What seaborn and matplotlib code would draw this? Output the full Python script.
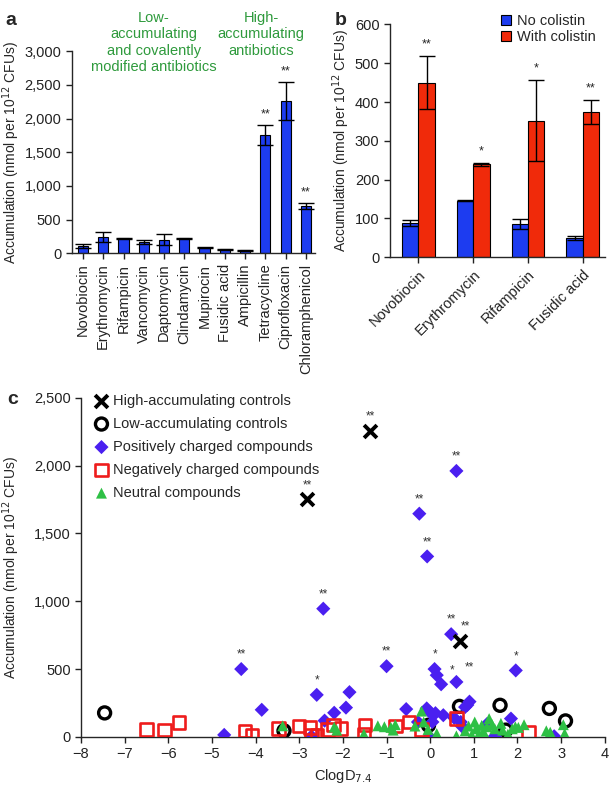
import numpy as np
import pandas as pd
import seaborn as sns
import matplotlib.pyplot as plt
from matplotlib.ticker import StrMethodFormatter

# Panel a data.
a_drugs = ["Novobiocin", "Erythromycin", "Rifampicin", "Vancomycin", "Daptomycin",
           "Clindamycin", "Mupirocin", "Fusidic acid", "Ampicillin", "Tetracycline",
           "Ciprofloxacin", "Chloramphenicol"]
a_mean = [110, 237, 220, 170, 200, 220, 84, 57, 44, 1755, 2262, 705]
a_err = [25, 74, 10, 25, 80, 12, 5, 5, 4, 150, 285, 45]
a_sig = ["", "", "", "", "", "", "", "", "", "**", "**", "**"]

# Panel b data.
b_drugs = ["Novobiocin", "Erythromycin", "Rifampicin", "Fusidic acid"]
b_no_col = [88, 146, 86, 50]
b_no_col_err = [8, 2, 13, 5]
b_with_col = [450, 240, 352, 374]
b_with_col_err = [68, 4, 105, 30]
b_sig = ["**", "*", "*", "**"]

# Panel c data.
high_x = [-2.82, -1.37, 0.68]
high_y = [1750, 2255, 705]
low_x = [-7.46, -3.35, -0.04, 0.67, 1.6, 1.73, 2.73, 3.1]
low_y = [177, 45, 86, 225, 233, 50, 210, 118]
pos_x = [-4.72, -4.33, -3.86, -2.72, -2.6, -2.45, -2.42, -2.2, -1.93, -1.85, -1.0, -0.55,
         -0.25, -0.28, -0.07, -0.08, 0.0, 0.05, 0.1, 0.15, 0.12, 0.25, 0.3, 0.48, 0.6, 0.6,
         0.55, 0.72, 0.8, 0.85, 0.9, -0.02, 1.48, 1.85, 1.96, 2.84, 1.3, 0.7]
pos_y = [15, 500, 200, 5, 310, 945, 120, 178, 216, 330, 521, 205,
         1645, 110, 1330, 210, 180, 110, 500, 455, 175, 388, 160, 757, 1960, 405,
         140, 80, 220, 235, 260, 2, 5, 135, 490, 5, 95, 110]
neg_x = [-6.5, -6.09, -5.76, -4.25, -4.08, -3.48, -3.0, -2.76, -2.72, -2.6, -2.35, -2.22,
         -2.05, -1.5, -1.52, -0.8, -0.49, -0.2, 0.6, 2.25]
neg_y = [54, 50, 107, 45, 12, 62, 80, 70, 12, 12, 55, 88,
         62, 86, 20, 80, 110, 55, 135, 35]
neu_x = [-3.38, -2.2, -2.14, -1.52, -1.2, -1.05, -0.9, -0.85, -0.8, -0.35, -0.2, -0.15,
         -0.05, 0.15, 0.6, 0.8, 0.95, 1.02, 1.05, 1.12, 1.18, 1.3, 1.35, 1.42, 1.48, 1.62,
         1.66, 1.78, 1.8, 1.88, 1.95, 2.02, 2.15, 2.66, 2.75, 3.05, 3.08, 1.22, 0.88]
neu_y = [82, 72, 50, 22, 82, 75, 70, 50, 90, 80, 190, 110,
         55, 25, 8, 45, 15, 110, 60, 25, 85, 75, 135, 90, 60, 100,
         50, 20, 5, 60, 75, 70, 90, 45, 35, 90, 25, 40, 80]
# Significance marks in panel c: point x, point y, label, horizontal shift (points).
sig_x = [-2.82, -1.37, 0.68, -4.33, -2.6, -2.45, -1.0, -0.25, -0.07, 0.6, 0.48, 0.1, 0.25, 0.6, 1.96]
sig_y = [1750, 2255, 705, 500, 310, 945, 521, 1645, 1330, 1960, 757, 500, 388, 405, 490]
sig_txt = ["**", "**", "**", "**", "*", "**", "**", "**", "**", "**", "**", "*", "*", "**", "*"]
sig_dx = [0, 0, 4, 0, 0, 0, 0, 0, 0, 0, 0, 0, 8, 9, 0]

sns.set_style("ticks")
plt.rcParams['font.family'] = ['Liberation Sans', 'DejaVu Sans']
plt.rcParams['font.size'] = 10.5
plt.rcParams['axes.linewidth'] = 1.0
plt.rcParams['xtick.major.width'] = 1.0
plt.rcParams['ytick.major.width'] = 1.0
plt.rcParams['xtick.color'] = '#222222'
plt.rcParams['ytick.color'] = '#222222'

blue = '#1d3cf0'
red = '#f02a0a'
green_txt = '#2e9a3c'
ylab = 'Accumulation (nmol per 10$^{12}$ CFUs)'

fig = plt.figure(figsize=(6.14, 7.89), dpi=100)

# Panel a.
ax_a = fig.add_axes([0.117, 0.679, 0.396, 0.256])
df_a = pd.DataFrame({"drug": a_drugs, "value": a_mean})
sns.barplot(data=df_a, x="drug", y="value", color=blue, width=0.5,
            edgecolor='black', linewidth=0.8, saturation=1, ax=ax_a)
xs = np.arange(len(a_drugs))
ax_a.errorbar(xs, a_mean, yerr=a_err, fmt='none', ecolor='black',
              elinewidth=1.0, capsize=6, capthick=1.0)
for x, m, e, s in zip(xs, a_mean, a_err, a_sig):
    if s:
        ax_a.annotate(s, (x, m + e), xytext=(0, 3), textcoords='offset points',
                      ha='center', va='bottom', fontsize=9)
ax_a.set_ylim(0, 3000)
ax_a.set_xlim(-0.55, 11.45)
ax_a.set_yticks([0, 500, 1000, 1500, 2000, 2500, 3000])
ax_a.yaxis.set_major_formatter(StrMethodFormatter('{x:,.0f}'))
ax_a.set_xlabel('')
ax_a.set_ylabel(ylab, fontsize=10)
ax_a.yaxis.set_label_coords(-0.205, 0.5)
ax_a.tick_params(axis='x', rotation=90, length=4)
ax_a.tick_params(axis='y', length=4)
ax_a.text(3.5, 3600, "Low-\naccumulating\nand covalently\nmodified antibiotics",
          ha='center', va='top', color=green_txt, fontsize=10.5, linespacing=1.22, clip_on=False)
ax_a.text(8.8, 3600, "High-\naccumulating\nantibiotics",
          ha='center', va='top', color=green_txt, fontsize=10.5, linespacing=1.22, clip_on=False)
sns.despine(ax=ax_a)

# Panel b.
ax_b = fig.add_axes([0.635, 0.674, 0.35, 0.295])
df_b = pd.DataFrame({
    "drug": b_drugs * 2,
    "value": b_no_col + b_with_col,
    "group": ["No colistin"] * 4 + ["With colistin"] * 4,
})
sns.barplot(data=df_b, x="drug", y="value", hue="group", palette=[blue, red],
            width=0.6, edgecolor='black', linewidth=0.8, saturation=1, ax=ax_b)
bx = np.arange(len(b_drugs))
ax_b.errorbar(bx - 0.15, b_no_col, yerr=b_no_col_err, fmt='none', ecolor='black',
              elinewidth=1.0, capsize=6, capthick=1.0)
ax_b.errorbar(bx + 0.15, b_with_col, yerr=b_with_col_err, fmt='none', ecolor='black',
              elinewidth=1.0, capsize=6, capthick=1.0)
for x, m, e, s in zip(bx + 0.15, b_with_col, b_with_col_err, b_sig):
    ax_b.annotate(s, (x, m + e), xytext=(0, 4), textcoords='offset points',
                  ha='center', va='bottom', fontsize=9)
ax_b.set_ylim(0, 600)
ax_b.set_xlim(-0.52, 3.4)
ax_b.set_xlabel('')
ax_b.set_ylabel(ylab, fontsize=10)
ax_b.yaxis.set_label_coords(-0.177, 0.5)
ax_b.tick_params(length=4)
plt.setp(ax_b.get_xticklabels(), rotation=45, ha='right', rotation_mode='anchor')
ax_b.legend(loc='upper right', bbox_to_anchor=(1.02, 1.10), frameon=False,
            handlelength=0.7, handleheight=0.7, handletextpad=0.4, labelspacing=0.15,
            fontsize=10.5)
sns.despine(ax=ax_b)

# Panel c.
ax_c = fig.add_axes([0.132, 0.066, 0.853, 0.43])
sns.scatterplot(x=low_x, y=low_y, marker='o', s=75, facecolor='none', edgecolor='black',
                linewidth=2.4, label='Low-accumulating controls', zorder=2, ax=ax_c)
sns.scatterplot(x=pos_x, y=pos_y, marker='D', s=52, color='#4a1ff0', edgecolor='none',
                label='Positively charged compounds', zorder=3, ax=ax_c)
sns.scatterplot(x=neg_x, y=neg_y, marker='s', s=80, facecolor='none', edgecolor='#ee1c1c',
                linewidth=1.9, label='Negatively charged compounds', zorder=4, ax=ax_c)
sns.scatterplot(x=neu_x, y=neu_y, marker='^', s=62, color='#2ec045', edgecolor='none',
                label='Neutral compounds', zorder=5, ax=ax_c)
sns.scatterplot(x=high_x, y=high_y, marker='x', s=85, color='black', linewidth=2.8,
                label='High-accumulating controls', zorder=6, ax=ax_c)
for x, y, t, dx in zip(sig_x, sig_y, sig_txt, sig_dx):
    ax_c.annotate(t, (x, y), xytext=(dx, 6), textcoords='offset points',
                  ha='center', va='bottom', fontsize=8.5, color='#333333')
handles, labels = ax_c.get_legend_handles_labels()
order = [4, 0, 1, 2, 3]
ax_c.legend([handles[i] for i in order], [labels[i] for i in order], loc='upper left',
            bbox_to_anchor=(0.0, 1.05), frameon=False, fontsize=10.5, handletextpad=0.3,
            labelspacing=0.62, handlelength=1.0)
ax_c.set_xlim(-8, 4)
ax_c.set_ylim(0, 2500)
ax_c.set_xticks(range(-8, 5))
ax_c.set_xticklabels([str(v).replace('-', '\u2212') for v in range(-8, 5)])
ax_c.set_yticks([0, 500, 1000, 1500, 2000, 2500])
ax_c.yaxis.set_major_formatter(StrMethodFormatter('{x:,.0f}'))
ax_c.set_xlabel('ClogD$_{7.4}$')
ax_c.set_ylabel(ylab, fontsize=10)
ax_c.yaxis.set_label_coords(-0.113, 0.5)
ax_c.tick_params(length=4)
sns.despine(ax=ax_c)

fig.text(0.008, 0.985, 'a', fontsize=14, fontweight='bold', va='top')
fig.text(0.545, 0.985, 'b', fontsize=14, fontweight='bold', va='top')
fig.text(0.012, 0.505, 'c', fontsize=14, fontweight='bold', va='top')

fig.savefig('out.png', dpi=100)
